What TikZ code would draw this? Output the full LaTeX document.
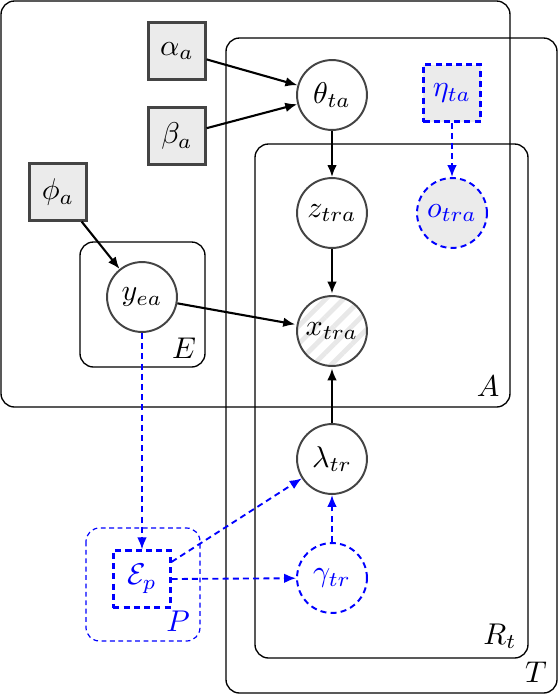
\documentclass[tikz,border=0pt]{standalone}
\usetikzlibrary{arrows.meta,patterns.meta}
\definecolor{nodegray}{HTML}{444444}
\definecolor{fillgray}{HTML}{EBEBEB}
\tikzset{
  latentnode/.style={circle,draw=nodegray,line width=0.65pt,fill=white,minimum size=23.3pt,inner sep=0pt},
  hatchnode/.style={latentnode,pattern={Lines[angle=45,distance=4.2pt,line width=1.6pt]},pattern color=black!9},
  constnode/.style={rectangle,draw=nodegray,line width=0.72pt,fill=fillgray,minimum size=19pt,inner sep=0pt},
  bluecirc/.style={circle,draw=blue,line width=0.65pt,dash pattern=on 2pt off 1.4pt,text=blue,minimum size=23.3pt,inner sep=0pt},
  bluerect/.style={rectangle,draw=blue,line width=0.72pt,dash pattern=on 2pt off 1.4pt,text=blue,minimum size=19pt,inner sep=0pt},
  plate/.style={draw=black,line width=0.45pt,rounded corners=4.5pt},
  edge/.style={-{Latex[length=4pt,width=3.2pt]},line width=0.7pt,black},
  bedge/.style={-{Latex[length=4pt,width=3.2pt]},line width=0.62pt,blue,dash pattern=on 2pt off 1.4pt},
  platelabel/.style={inner sep=0pt}
}
\begin{document}
\begin{tikzpicture}[x=0.3333pt,y=-0.3333pt]
\useasboundingbox (0,0) rectangle (558,696);
% plates
\draw[plate] (1,1) rectangle (510,407);
\draw[plate] (226,38) rectangle (557,693);
\draw[plate] (255,144) rectangle (528,658);
\draw[plate] (80,242) rectangle (205,367);
\draw[plate,draw=blue,line width=0.4pt,dash pattern=on 1.6pt off 1.2pt] (86,528) rectangle (200,641);
\node[platelabel] (labE) at (184,348) {$E$};
\node[platelabel] (labA) at (488,386) {$A$};
\node[platelabel] (labR) at (500,636) {$R_t$};
\node[platelabel] (labT) at (536,672) {$T$};
\node[platelabel,text=blue] (labP) at (178,621) {$P$};
% nodes
\node[constnode] (alpha) at (177,51) {$\alpha_a$};
\node[constnode] (beta) at (177,136) {$\beta_a$};
\node[constnode] (phi) at (58,192) {$\phi_a$};
\node[latentnode] (y) at (142,297) {$y_{ea}$};
\node[latentnode] (theta) at (332,95) {$\theta_{ta}$};
\node[latentnode] (z) at (332,213) {$z_{tra}$};
\node[hatchnode] (x) at (332,331) {$x_{tra}$};
\node[latentnode] (lambda) at (332,459) {$\lambda_{tr}$};
\node[bluecirc] (gamma) at (332,578) {$\gamma_{tr}$};
\node[bluerect,fill=fillgray] (eta) at (452,93) {$\eta_{ta}$};
\node[bluecirc,fill=fillgray] (o) at (452,213) {$o_{tra}$};
\node[bluerect] (eps) at (142,579) {$\mathcal{E}_p$};
% edges
\draw[edge] (alpha) -- (theta);
\draw[edge] (beta) -- (theta);
\draw[edge] (phi) -- (y);
\draw[edge] (y) -- (x);
\draw[edge] (theta) -- (z);
\draw[edge] (z) -- (x);
\draw[edge] (lambda) -- (x);
\draw[bedge] (eta) -- (o);
\draw[bedge] (y) -- (eps);
\draw[bedge] ([yshift=5.7pt]eps.east) -- (lambda);
\draw[bedge] (eps.east) -- (gamma);
\draw[bedge] (gamma) -- (lambda);
\end{tikzpicture}
\end{document}
